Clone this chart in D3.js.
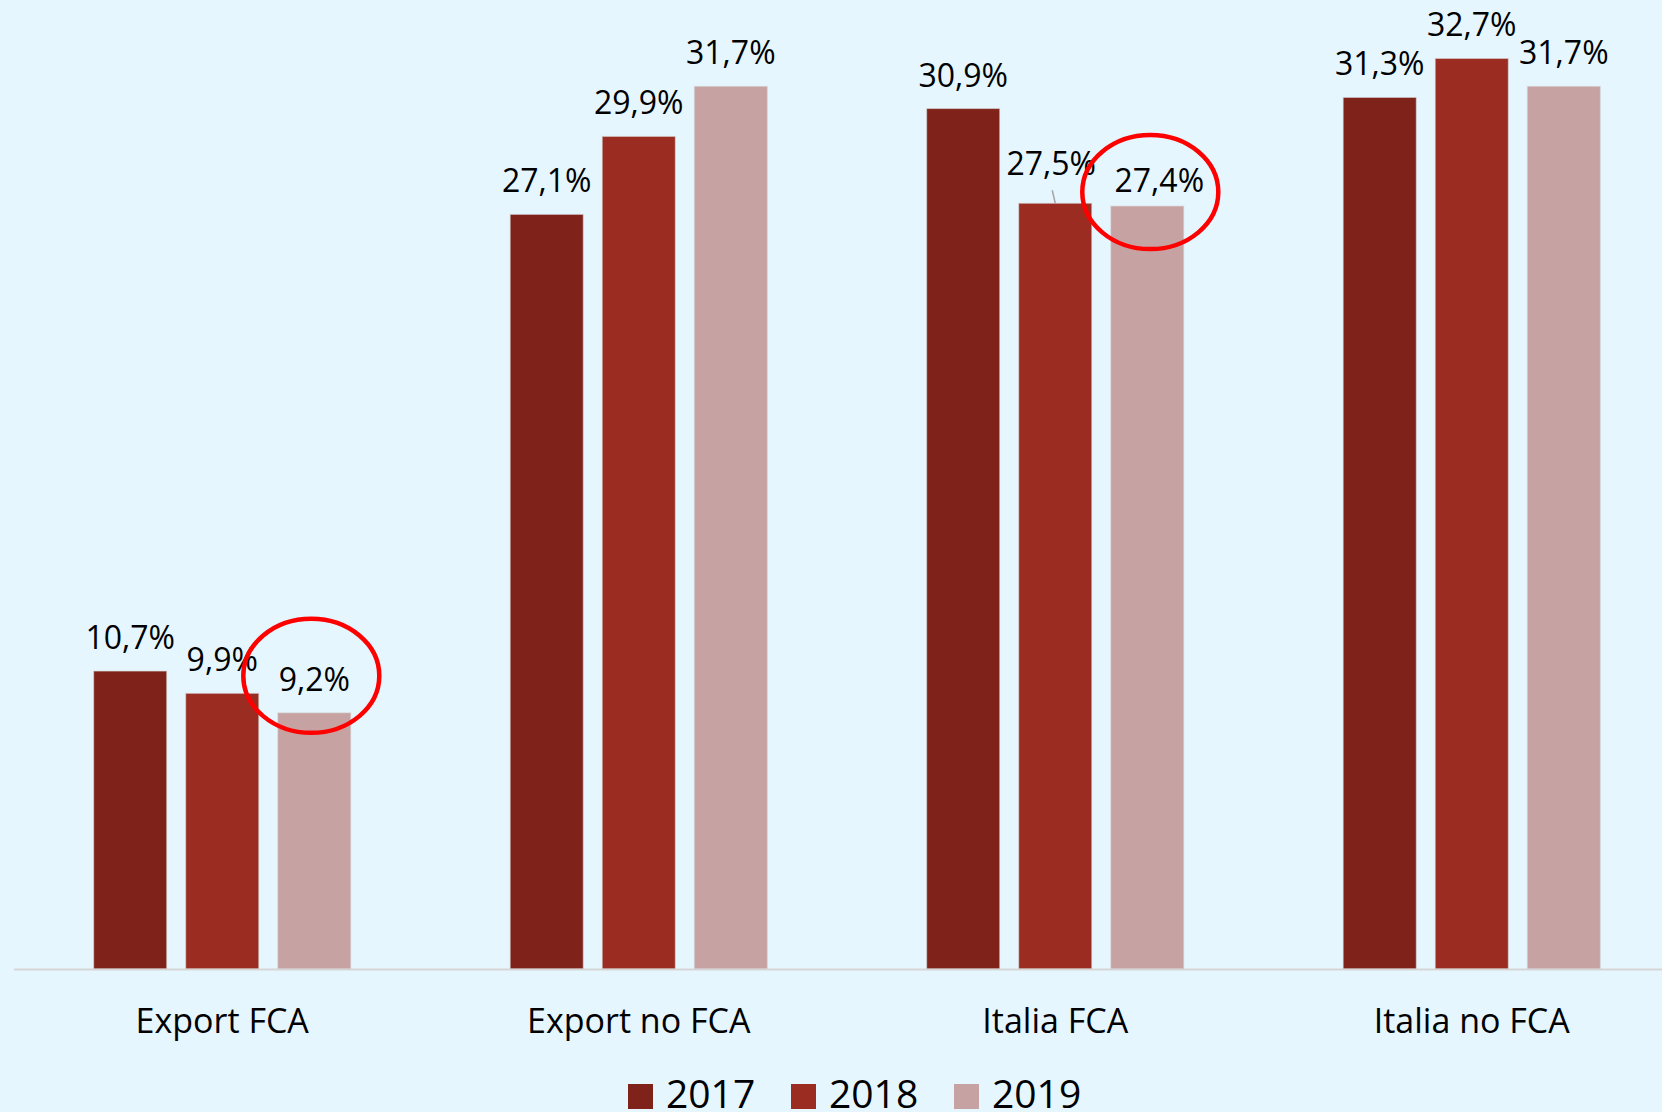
<!DOCTYPE html>
<html>
<head>
<meta charset="utf-8">
<script src="https://cdn.jsdelivr.net/npm/d3@7"></script>
<style>
  body { margin: 0; background: #e6f6fe; }
  text { font-family: "Open Sans", sans-serif; fill: #000; }
</style>
</head>
<body>
<script>
// data
var categories = ["Export FCA", "Export no FCA", "Italia FCA", "Italia no FCA"];
var years = ["2017", "2018", "2019"];
var values2017 = [10.7, 27.1, 30.9, 31.3];
var values2018 = [9.9, 29.9, 27.5, 32.7];
var values2019 = [9.2, 31.7, 27.4, 31.7];
var seriesValues = [values2017, values2018, values2019];

// highlighted bars (red circles)
var highlights = [{cat: "Export FCA", year: "2019"}, {cat: "Italia FCA", year: "2019"}];

var colors = {"2017": "#7f2219", "2018": "#9b2c21", "2019": "#c6a2a2"};

// manual label nudges, like the original chart
var nudge = {"Italia FCA|2018": {dx: -4, dy: -6, leader: true},
             "Italia FCA|2019": {dx: 12, dy: 8}};
var circleOff = {"Export FCA": {dx: -3, dy: -37}, "Italia FCA": {dx: 3, dy: -14}};

var width = 1662, height = 1112;
var baseline = 969;

var svg = d3.select("body").append("svg")
    .attr("width", width)
    .attr("height", height);

svg.append("rect")
    .attr("width", width)
    .attr("height", height)
    .attr("fill", "#e6f6fe");

// scales
var x0 = d3.scaleBand()
    .domain(categories)
    .range([14, 1680])
    .paddingInner(0.337)
    .paddingOuter(0.1685);

var x1 = d3.scaleBand()
    .domain(years)
    .range([0, x0.bandwidth()])
    .paddingInner(0.2065)
    .paddingOuter(0.1033);

var y = d3.scaleLinear()
    .domain([0, 34.8])
    .range([baseline, 0]);

var locale = d3.formatLocale({decimal: ",", thousands: ".", grouping: [3], currency: ["", "€"]});
var fmt = locale.format(".1f");

var data = [];
categories.forEach(function(c, i) {
  years.forEach(function(yr, j) {
    data.push({cat: c, year: yr, value: seriesValues[j][i]});
  });
});

// bars
svg.selectAll(".bar")
    .data(data)
  .enter().append("rect")
    .attr("class", "bar")
    .attr("x", function(d) { return x0(d.cat) + x1(d.year); })
    .attr("y", function(d) { return y(d.value); })
    .attr("width", x1.bandwidth())
    .attr("height", function(d) { return baseline - y(d.value); })
    .attr("fill", function(d) { return colors[d.year]; })
    .attr("stroke", "rgba(215,215,215,0.6)")
    .attr("stroke-width", 1);

// x axis line
svg.append("line")
    .attr("x1", 14).attr("x2", width)
    .attr("y1", baseline + 0.5).attr("y2", baseline + 0.5)
    .attr("stroke", "#d5d5d5")
    .attr("stroke-width", 2);

// category labels
svg.selectAll(".cat")
    .data(categories)
  .enter().append("text")
    .attr("class", "cat")
    .attr("x", function(d) { return x0(d) + x0.bandwidth() / 2; })
    .attr("y", 1033)
    .attr("text-anchor", "middle")
    .style("font-size", "34px")
    .text(function(d) { return d; });

// value labels
function labelPos(d) {
  var n = nudge[d.cat + "|" + d.year] || {dx: 0, dy: 0};
  return {x: x0(d.cat) + x1(d.year) + x1.bandwidth() / 2 + n.dx,
          y: y(d.value) - 22 + n.dy, leader: n.leader};
}

svg.selectAll(".lbl")
    .data(data)
  .enter().append("text")
    .attr("class", "lbl")
    .attr("x", function(d) { return labelPos(d).x; })
    .attr("y", function(d) { return labelPos(d).y; })
    .attr("text-anchor", "middle")
    .style("font-size", "32px")
    .text(function(d) { return fmt(d.value) + "%"; });

// leader lines
svg.selectAll(".leader")
    .data(data.filter(function(d) { return labelPos(d).leader; }))
  .enter().append("line")
    .attr("x1", function(d) { return labelPos(d).x + 1; })
    .attr("y1", function(d) { return labelPos(d).y + 15; })
    .attr("x2", function(d) { return x0(d.cat) + x1(d.year) + x1.bandwidth() / 2; })
    .attr("y2", function(d) { return y(d.value); })
    .attr("stroke", "#a6a6a6")
    .attr("stroke-width", 1.5);

// red circles
svg.selectAll(".ring")
    .data(highlights)
  .enter().append("ellipse")
    .attr("class", "ring")
    .attr("cx", function(d) { return x0(d.cat) + x1(d.year) + x1.bandwidth() / 2 + circleOff[d.cat].dx; })
    .attr("cy", function(d) {
      var v = seriesValues[years.indexOf(d.year)][categories.indexOf(d.cat)];
      return y(v) + circleOff[d.cat].dy;
    })
    .attr("rx", 68)
    .attr("ry", 57)
    .attr("fill", "none")
    .attr("stroke", "#ff0000")
    .attr("stroke-width", 4.5);

// legend
var legend = svg.append("g")
    .attr("transform", "translate(628,1084)");

var item = legend.selectAll(".item")
    .data(years)
  .enter().append("g")
    .attr("class", "item")
    .attr("transform", function(d, i) { return "translate(" + (i * 163) + ",0)"; });

item.append("rect")
    .attr("width", 25)
    .attr("height", 25)
    .attr("fill", function(d) { return colors[d]; });

item.append("text")
    .attr("x", 38)
    .attr("y", 24)
    .style("font-size", "39px")
    .text(function(d) { return d; });
</script>
</body>
</html>
